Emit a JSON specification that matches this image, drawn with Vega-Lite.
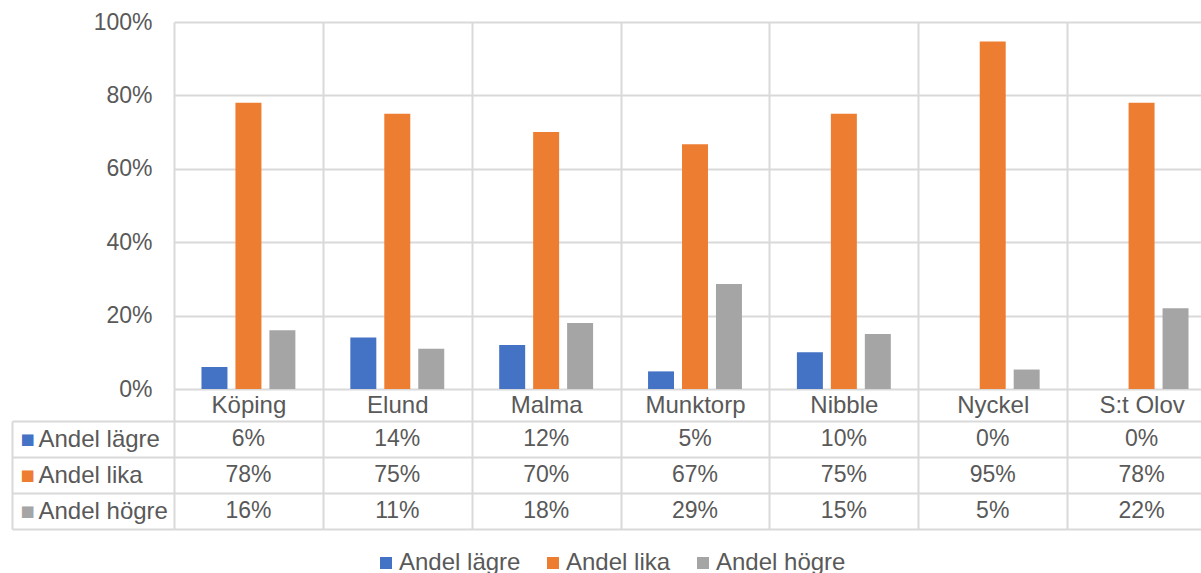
{
  "$schema": "https://vega.github.io/schema/vega-lite/v6.json",
  "padding": {"left": 11, "top": 11, "right": 0, "bottom": 0},
  "background": "white",
  "config": {
    "view": {"stroke": null},
    "font": "Liberation Sans",
    "axis": {"labelFont": "Liberation Sans", "labelColor": "#595959", "labelFontSize": 23, "gridColor": "#d9d9d9", "gridWidth": 2, "tickColor": "#d9d9d9", "tickWidth": 2, "domainColor": "#d9d9d9", "domainWidth": 2}
  },
  "data": {
    "values": [
      {"town": "Köping", "series": "Andel lägre", "value": 0.06},
      {"town": "Köping", "series": "Andel lika", "value": 0.78},
      {"town": "Köping", "series": "Andel högre", "value": 0.16},
      {"town": "Elund", "series": "Andel lägre", "value": 0.14},
      {"town": "Elund", "series": "Andel lika", "value": 0.75},
      {"town": "Elund", "series": "Andel högre", "value": 0.11},
      {"town": "Malma", "series": "Andel lägre", "value": 0.12},
      {"town": "Malma", "series": "Andel lika", "value": 0.70},
      {"town": "Malma", "series": "Andel högre", "value": 0.18},
      {"town": "Munktorp", "series": "Andel lägre", "value": 0.048},
      {"town": "Munktorp", "series": "Andel lika", "value": 0.667},
      {"town": "Munktorp", "series": "Andel högre", "value": 0.286},
      {"town": "Nibble", "series": "Andel lägre", "value": 0.10},
      {"town": "Nibble", "series": "Andel lika", "value": 0.75},
      {"town": "Nibble", "series": "Andel högre", "value": 0.15},
      {"town": "Nyckel", "series": "Andel lägre", "value": 0.0},
      {"town": "Nyckel", "series": "Andel lika", "value": 0.947},
      {"town": "Nyckel", "series": "Andel högre", "value": 0.053},
      {"town": "S:t Olov", "series": "Andel lägre", "value": 0.0},
      {"town": "S:t Olov", "series": "Andel lika", "value": 0.78},
      {"town": "S:t Olov", "series": "Andel högre", "value": 0.22}
    ]
  },
  "bounds": "flush",
  "spacing": 32,
  "resolve": {"scale": {"color": "shared"}},
  "vconcat": [
    {
      "width": 1042,
      "height": 367,
      "mark": {"type": "bar"},
      "encoding": {
        "x": {
          "field": "town", "type": "nominal",
          "sort": ["Köping", "Elund", "Malma", "Munktorp", "Nibble", "Nyckel", "S:t Olov"],
          "scale": {"paddingInner": 0, "paddingOuter": 0},
          "axis": {"title": null, "orient": "bottom", "labelAngle": 0, "tickBand": "extent", "tickSize": 32, "labelPadding": -16, "labelBaseline": "middle", "labelFontSize": 24, "domain": false, "grid": true}
        },
        "xOffset": {
          "field": "series", "type": "nominal",
          "sort": ["Andel lägre", "Andel lika", "Andel högre"],
          "scale": {"paddingInner": 0.235, "paddingOuter": 0.809}
        },
        "y": {
          "field": "value", "type": "quantitative",
          "scale": {"domain": [0, 1]},
          "axis": {"title": null, "format": ".0%", "values": [0, 0.2, 0.4, 0.6, 0.8, 1], "domain": false, "ticks": false, "labelPadding": 22, "grid": true}
        },
        "color": {
          "field": "series", "type": "nominal",
          "scale": {"domain": ["Andel lägre", "Andel lika", "Andel högre"], "range": ["#4472c4", "#ed7d31", "#a5a5a5"]},
          "legend": {"orient": "none", "legendX": 200, "legendY": 529, "direction": "horizontal", "title": null, "padding": 0, "symbolType": "square", "symbolSize": 144, "symbolStrokeWidth": 0, "labelFont": "Liberation Sans", "labelFontSize": 24, "labelColor": "#595959", "labelOffset": 1, "columnPadding": 20}
        }
      }
    },
    {
      "width": 1042,
      "height": 108,
      "resolve": {"axis": {"y": "independent"}},
      "layer": [
        {
          "mark": {"type": "text", "fontSize": 23, "color": "#595959", "font": "Liberation Sans"},
          "encoding": {
            "x": {
              "field": "town", "type": "nominal",
              "sort": ["Köping", "Elund", "Malma", "Munktorp", "Nibble", "Nyckel", "S:t Olov"],
              "scale": {"paddingInner": 0, "paddingOuter": 0},
              "axis": {"title": null, "labels": false, "ticks": false, "domain": false, "grid": true, "tickBand": "extent"}
            },
            "y": {
              "field": "series", "type": "nominal",
              "sort": ["Andel lägre", "Andel lika", "Andel högre"],
              "scale": {"paddingInner": 0, "paddingOuter": 0},
              "axis": {"title": null, "orient": "left", "tickBand": "extent", "tickSize": 162, "labelAlign": "left", "labelPadding": -26, "labelBaseline": "middle", "labelFontSize": 24, "domain": false, "grid": true}
            },
            "text": {"field": "value", "type": "quantitative", "format": ".0%"}
          }
        },
        {
          "mark": {"type": "text", "text": ""},
          "encoding": {
            "y": {
              "field": "series", "type": "nominal",
              "sort": ["Andel lägre", "Andel lika", "Andel högre"],
              "axis": {
                "title": null, "orient": "left", "offset": 162, "ticks": false, "domain": true, "grid": false,
                "labelExpr": "'■'", "labelFont": "DejaVu Sans", "labelFontSize": 15, "labelAlign": "left", "labelPadding": -8, "labelBaseline": "middle",
                "labelColor": {"condition": [{"test": "datum.value === 'Andel lägre'", "value": "#4472c4"}, {"test": "datum.value === 'Andel lika'", "value": "#ed7d31"}], "value": "#a5a5a5"}
              }
            }
          }
        }
      ]
    }
  ]
}
